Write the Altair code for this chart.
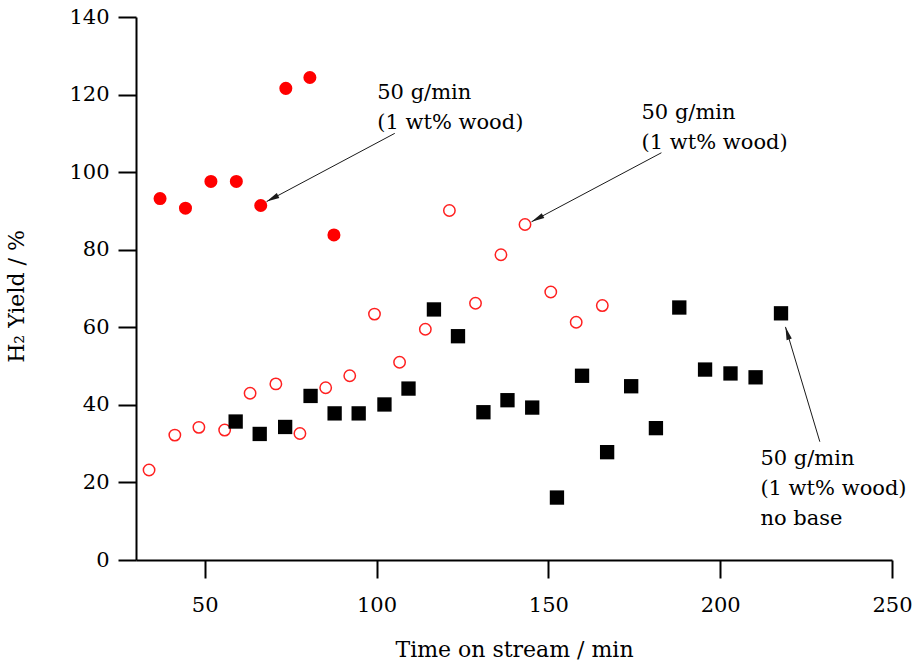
import math
import altair as alt
import pandas as pd

# ---- data ----
filled_x = [37.0, 44.4, 51.8, 59.2, 66.3, 73.6, 80.6, 87.6]
filled_y = [93.2, 90.7, 97.6, 97.6, 91.4, 121.6, 124.4, 83.8]

open_x = [33.8, 41.3, 48.3, 55.8, 63.2, 70.7, 77.7, 85.2, 92.2, 99.4,
          106.7, 114.2, 121.2, 128.8, 136.2, 143.2, 150.7, 158.1, 165.7]
open_y = [23.2, 32.2, 34.2, 33.5, 43.0, 45.4, 32.6, 44.4, 47.5, 63.4,
          51.0, 59.5, 90.1, 66.2, 78.7, 86.5, 69.1, 61.3, 65.6]

square_x = [59.0, 66.0, 73.4, 80.8, 87.8, 94.8, 102.3, 109.3, 116.7, 123.7,
            131.1, 138.1, 145.3, 152.5, 159.8, 167.1, 174.1, 181.3, 188.1,
            195.6, 203.0, 210.3, 217.7]
square_y = [35.7, 32.5, 34.3, 42.3, 37.8, 37.8, 40.1, 44.2, 64.6, 57.7,
            38.1, 41.2, 39.3, 16.1, 47.5, 27.8, 44.8, 34.0, 65.1,
            49.1, 48.1, 47.1, 63.6]

ann_labels = ["50 g/min\n(1 wt% wood)",
              "50 g/min\n(1 wt% wood)",
              "50 g/min\n(1 wt% wood)\nno base"]
ann_x = [100.2, 177.1, 211.7]
ann_y = [118.8, 113.7, 24.5]

arrow_x1 = [105.3, 182.9, 229.0]
arrow_y1 = [110.0, 105.0, 30.5]
arrow_x2 = [68.0, 145.1, 219.0]
arrow_y2 = [92.4, 87.2, 60.1]

x_ticks = [50, 100, 150, 200, 250]
y_ticks = [0, 20, 40, 60, 80, 100, 120, 140]

X_DOMAIN = [30, 250]
Y_DOMAIN = [0, 140]
W, H = 756, 543
FONT = "DejaVu Serif"

# arrow head rotation (screen direction of each arrow)
sx = W / (X_DOMAIN[1] - X_DOMAIN[0])
sy = H / (Y_DOMAIN[1] - Y_DOMAIN[0])
angles = []
for a, b, c, d in zip(arrow_x1, arrow_y1, arrow_x2, arrow_y2):
    dxp = (c - a) * sx
    dyp = -(d - b) * sy
    angles.append(math.degrees(math.atan2(dxp, -dyp)) % 360)

df_f = pd.DataFrame({"x": filled_x, "y": filled_y})
df_o = pd.DataFrame({"x": open_x, "y": open_y})
df_s = pd.DataFrame({"x": square_x, "y": square_y})
df_a = pd.DataFrame({"label": ann_labels, "x": ann_x, "y": ann_y})
df_r = pd.DataFrame({"x": arrow_x1, "y": arrow_y1, "x2": arrow_x2,
                     "y2": arrow_y2, "angle": angles})
df_h = pd.DataFrame({"x": arrow_x2, "y": arrow_y2, "angle": angles})

xs = alt.Scale(domain=X_DOMAIN, nice=False, zero=False)
ys = alt.Scale(domain=Y_DOMAIN, nice=False)

xaxis = alt.Axis(values=x_ticks, grid=False,
                 tickSize=18, tickWidth=2, domainWidth=2,
                 domainColor="black", tickColor="black",
                 labelFont=FONT, labelFontSize=21, labelColor="black",
                 labelPadding=16, labelFlush=False,
                 titleFont=FONT, titleFontSize=22, titleFontWeight="normal",
                 titleColor="black", titleY=96, titleBaseline="alphabetic")
yaxis = alt.Axis(values=y_ticks, grid=False,
                 tickSize=18, tickWidth=2, domainWidth=2,
                 domainColor="black", tickColor="black",
                 labelFont=FONT, labelFontSize=21, labelColor="black",
                 labelPadding=9, labelFlush=False,
                 titleFont=FONT, titleFontSize=22, titleFontWeight="normal",
                 titleColor="black", titleAngle=270, titleX=-113, titleY=279,
                 titleAlign="center", titleBaseline="alphabetic")

XT = "Time on stream / min"
YT = "H₂ Yield / %"


def X(field="x"):
    return alt.X(f"{field}:Q", scale=xs, axis=xaxis, title=XT)


def Y(field="y"):
    return alt.Y(f"{field}:Q", scale=ys, axis=yaxis, title=YT)


filled = alt.Chart(df_f).mark_point(
    shape="circle", filled=True, color="#ff0000", size=170, opacity=1
).encode(x=X(), y=Y())

opened = alt.Chart(df_o).mark_point(
    shape="circle", filled=False, color="#ff2020", strokeWidth=1.5,
    size=130, opacity=1
).encode(x=X(), y=Y())

squares = alt.Chart(df_s).mark_square(
    color="black", size=205, opacity=1
).encode(x=X(), y=Y())

rules = alt.Chart(df_r).mark_rule(color="#1a1a1a", strokeWidth=1).encode(
    x=X(), y=Y(), x2="x2:Q", y2="y2:Q")

ARROW = "M0,0 L0.42,2 L-0.42,2 Z"
heads = alt.Chart(df_h).mark_point(
    shape=ARROW, filled=True, color="#1a1a1a", size=169, opacity=1
).encode(x=X(), y=Y(), angle=alt.Angle("angle:Q", scale=None))

texts = alt.Chart(df_a).mark_text(
    align="left", baseline="alphabetic", font=FONT, fontSize=21,
    lineHeight=30, lineBreak="\n", color="black"
).encode(x=X(), y=Y(), text="label:N")

chart = alt.layer(filled, opened, squares, rules, heads, texts).properties(
    width=W, height=H,
    autosize=alt.AutoSizeParams(type="none"),
    padding={"left": 136, "top": 17, "right": 24, "bottom": 100},
    background="white",
).configure_view(stroke=None)

chart.save("out.html", embed_options={"renderer": "svg", "actions": False})
